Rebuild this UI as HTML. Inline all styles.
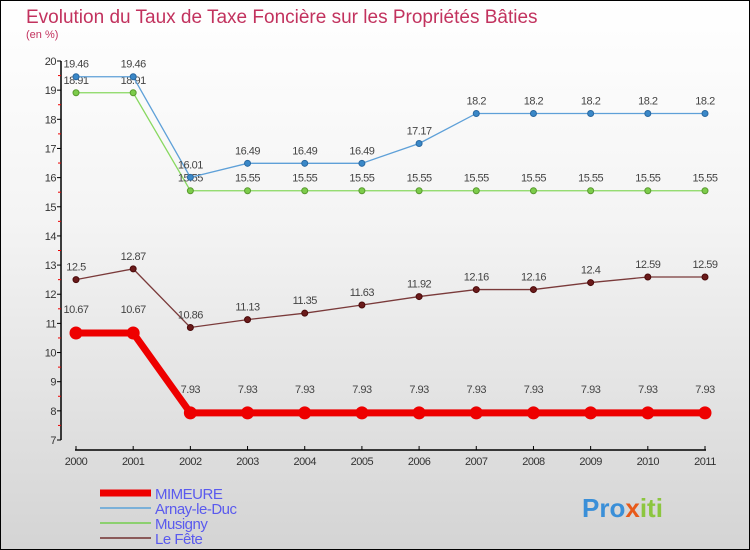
<!DOCTYPE html>
<html><head><meta charset="utf-8"><style>
html,body{margin:0;padding:0}
body{width:750px;height:550px;overflow:hidden;font-family:"Liberation Sans",sans-serif}
#wrap{position:absolute;left:0;top:0;width:748px;height:548px;border:1px solid #000;background:linear-gradient(#ffffff,#f4f4f4 40%,#d4d4d4)}
</style></head><body>
<div id="wrap">
<svg id="chart" width="750" height="550" style="position:absolute;left:-1px;top:-1px">
<text x="26" y="23" font-size="19" fill="#c2325e">Evolution du Taux de Taxe Foncière sur les Propriétés Bâties</text>
<text x="26" y="38" font-size="11" fill="#c2325e">(en %)</text>
<g id="axes"></g><g id="series"></g><g id="legend"></g>
<text x="582" y="517" font-size="26" font-weight="bold" fill="#3a8fd8">Pro<tspan fill="#e85a1a">x</tspan><tspan fill="#8cc63f">iti</tspan></text>
</svg></div>
<script>
const years=["2000","2001","2002","2003","2004","2005","2006","2007","2008","2009","2010","2011"];
const yTicks=[7,8,9,10,11,12,13,14,15,16,17,18,19,20];
const mimeure=[10.67,10.67,7.93,7.93,7.93,7.93,7.93,7.93,7.93,7.93,7.93,7.93];
const arnay=[19.46,19.46,16.01,16.49,16.49,16.49,17.17,18.2,18.2,18.2,18.2,18.2];
const musigny=[18.91,18.91,15.55,15.55,15.55,15.55,15.55,15.55,15.55,15.55,15.55,15.55];
const lefete=[12.5,12.87,10.86,11.13,11.35,11.63,11.92,12.16,12.16,12.4,12.59,12.59];
const NS="http://www.w3.org/2000/svg";
const X=i=>76+i*(629/11);
const Y=v=>440-(v-7)*(379/13);
function mk(t,a,p){const e=document.createElementNS(NS,t);for(const k in a)e.setAttribute(k,a[k]);p.appendChild(e);return e;}
const ax=document.getElementById('axes');
let yl=mk('line',{x1:61,y1:Y(20),x2:61,y2:Y(7),stroke:'#000','stroke-width':1.5},ax);


yTicks.forEach(v=>{
 mk('line',{x1:57,y1:Y(v),x2:61,y2:Y(v),stroke:'#000'},ax);
 if(v<20) mk('line',{x1:58,y1:Y(v+0.5),x2:61,y2:Y(v+0.5),stroke:'#e00'},ax);
 const t=mk('text',{x:56,y:Y(v)+4,'text-anchor':'end','font-size':11,fill:'#333','letter-spacing':'-0.5'},ax);t.textContent=v;
 
 
});
let xl=mk('line',{x1:75,y1:450,x2:706,y2:450,stroke:'#000','stroke-width':1.5},ax);


years.forEach((y,i)=>{
 mk('line',{x1:X(i),y1:446,x2:X(i),y2:450,stroke:'#000'},ax);
 const t=mk('text',{x:X(i),y:465,'text-anchor':'middle','font-size':11,fill:'#333','letter-spacing':'-0.5'},ax);t.textContent=y;
 
 
});
const sg=document.getElementById('series');
function series(name,data,color,w,r,dot,stroke,off){
 const g=mk('g',{},sg);
 
 
 mk('polyline',{points:data.map((v,i)=>X(i)+','+Y(v)).join(' '),fill:'none',stroke:color,'stroke-width':w},g);
 data.forEach((v,i)=>{
  const c=mk('circle',{cx:X(i),cy:Y(v),r:r,fill:dot,stroke:stroke,'stroke-width':1},g);
  
  
  const t=mk('text',{x:X(i),y:Y(v)-off,'text-anchor':'middle','font-size':11,fill:'#444','letter-spacing':'-0.5'},g);t.textContent=v;
  
  
 });
}
series('le-fete',lefete,'#7a3a3a',1.3,3,'#6a1a1a','#4a0a0a',9);
series('musigny',musigny,'#88d860',1.3,3,'#7ccc4a','#5a9a30',9);
series('arnay-le-duc',arnay,'#5ea0d8',1.3,3,'#3a88c8','#2a68a0',9);
series('mimeure',mimeure,'#ee0000',7,6,'#ee0000','#ee0000',20);
const lg=document.getElementById('legend');
const L=[['MIMEURE','#ee0000',7],['Arnay-le-Duc','#7ab0d8',2],['Musigny','#8cd070',2],['Le Fête','#8a5a5a',2]];
L.forEach((l,i)=>{
 const y=493+i*15;
 const g=mk('g',{},lg);
 
 
 mk('line',{x1:100,y1:y,x2:151,y2:y,stroke:l[1],'stroke-width':l[2]},g);
 const t=mk('text',{x:155,y:y+6,'font-size':15,fill:'#5a5aee','letter-spacing':'-0.5'},g);t.textContent=l[0];
});
</script>
</body></html>
